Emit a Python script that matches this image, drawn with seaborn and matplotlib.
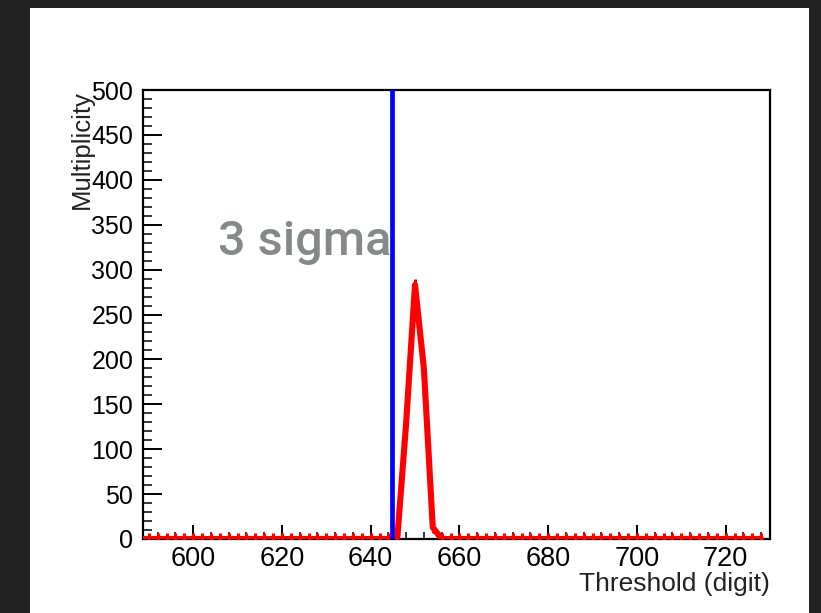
import matplotlib
matplotlib.use("Agg")
import matplotlib.pyplot as plt
from matplotlib.patches import Rectangle
from matplotlib.ticker import MultipleLocator
import numpy as np
import pandas as pd
import seaborn as sns

# Threshold scan: bin centres (digit) and hit multiplicity per bin
thresholds = list(range(588, 730, 2))
peak_bins = [646, 648, 650, 652, 654, 656]
peak_counts = [0, 129, 283, 190, 13, 0]
multiplicity = [peak_counts[peak_bins.index(t)] if t in peak_bins else 0 for t in thresholds]

cut_value = 644.8          # 3 sigma cut position
cut_label = "3 sigma"
x_ticks = [600, 620, 640, 660, 680, 700, 720]
y_ticks = [0, 50, 100, 150, 200, 250, 300, 350, 400, 450, 500]

df = pd.DataFrame({"threshold": thresholds, "multiplicity": multiplicity})

sns.set_style("ticks")
plt.rcParams["font.family"] = ["Liberation Sans", "DejaVu Sans"]

fig = plt.figure(figsize=(8.21, 6.13), dpi=100, facecolor="#222222")
# white canvas inside the dark frame
fig.patches.append(Rectangle((30 / 821, 0), (809 - 30) / 821, (613 - 8) / 613,
                             transform=fig.transFigure, facecolor="white",
                             edgecolor="none", zorder=-10))

ax = fig.add_axes([143 / 821, (613 - 539) / 613, (770 - 143) / 821, (539 - 90) / 613])
ax.set_zorder(1)
ax.set_facecolor("white")

sns.lineplot(data=df, x="threshold", y="multiplicity", ax=ax, color="#ff0000",
             linewidth=4.4, marker="|", markersize=9, markeredgewidth=2.2,
             markeredgecolor="#ff0000", zorder=3, clip_on=True)
ax.axvline(cut_value, color="#0000ff", linewidth=3.4, zorder=4)

ax.text(cut_value - 0.1, 316, cut_label, ha="right", va="baseline",
        fontsize=35, color="#86898a", fontweight="medium",
        family=["Roboto", "DejaVu Sans"], zorder=5)

ax.set_xlim(588.7, 730)
ax.set_ylim(0, 500)
ax.set_xticks(x_ticks)
ax.set_yticks(y_ticks)
ax.xaxis.set_minor_locator(MultipleLocator(4))
ax.yaxis.set_minor_locator(MultipleLocator(10))

for side in ["top", "right", "left", "bottom"]:
    ax.spines[side].set_visible(True)
    ax.spines[side].set_linewidth(1.6)
    ax.spines[side].set_color("black")

ax.tick_params(axis="y", which="major", direction="in", length=13.5, width=1.4,
               labelsize=18, pad=7, colors="black")
ax.tick_params(axis="y", which="minor", direction="in", length=6.5, width=1.3)
ax.tick_params(axis="x", which="major", direction="in", length=10, width=1.4,
               labelsize=19.5, pad=5, colors="black")
ax.tick_params(axis="x", which="minor", direction="in", length=5, width=1.3)

ax.set_xlabel("Threshold (digit)", fontsize=19, loc="right", labelpad=0, color="#222222")
ax.set_ylabel("Multiplicity", fontsize=18.5, loc="top", labelpad=-2, color="#222222")

fig.savefig("out.png", dpi=100, facecolor=fig.get_facecolor())
